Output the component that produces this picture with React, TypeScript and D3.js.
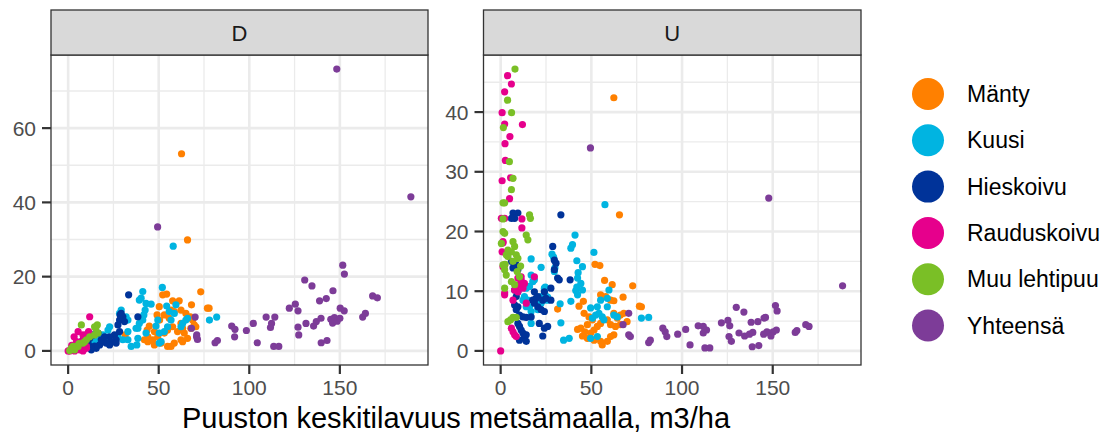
import * as d3 from 'd3';
import React from 'react';

// categories
const species = ["Mänty", "Kuusi", "Hieskoivu", "Rauduskoivu", "Muu lehtipuu", "Yhteensä"];
const colors = ["#FF8000", "#00B4E1", "#003399", "#E6008C", "#7ABF26", "#7D3C98"];
const panels = ["D", "U"];

const xTicks = [0, 50, 100, 150];
const yTicksD = [0, 20, 40, 60];
const yTicksU = [0, 10, 20, 30, 40];

// [volume m3/ha, value] -- panel D
const mantyD = [[62.6,53.1],[65.9,29.9],[73.2,15.9],[52.2,15.1],[54.4,15.3],[61.3,13.5],[57.7,13.5],[76.9,11.5],[77.8,11.5],[68.1,12.4],[56.8,11],[58.6,10.6],[50.5,8.3],[65,10.1],[62.3,11],[44.8,6.7],[43.6,5.6],[47.6,5.2],[49.5,3.8],[46.7,3],[42.1,3],[44,2.5],[47.6,1.6],[51.3,2.1],[54.9,1.2],[56.8,1.2],[58.6,2.1],[62.3,3],[63.2,2.5],[65.9,3.4],[53.1,4.8],[54.9,5.6],[57.7,6.5],[60.4,5.2],[64.1,4.8],[67.7,6.1],[69.6,7],[68.7,8.3],[67.4,9.2],[70.5,6.5],[31.5,4.3],[62.3,7.4],[63.2,6.1],[55.8,8.8],[53.1,9.7],[50.3,11.9],[49.1,9.7],[44,3.8]];
const kuusiD = [[58,28.2],[52,17.1],[41.2,16],[40.3,14.2],[39.3,13.7],[43,12.8],[45.8,12.6],[42.5,11],[41.8,9.7],[41.2,8.3],[38.5,6.1],[33,3],[34.8,1.2],[37.9,1.6],[28.4,10.1],[29.3,11],[32,9.2],[33,8.3],[54.4,12.1],[59.5,12.4],[55.8,10.6],[58.6,10.1],[56.8,8.3],[54.9,6.5],[53.1,5.2],[50.3,4.8],[48.5,6.7],[49.5,8.3],[62.3,6.5],[63.2,7.4],[65,8.3],[65.9,8.8],[78,8.3],[82,9.1],[50.3,2.1],[51.3,2.5],[22.9,6.5],[22,5.6],[19.2,4.3],[16.5,3.8],[14.6,3],[13.7,1.6],[16.5,1.6],[18.3,2.5],[21,3.4],[27.5,3.8],[30.2,3],[33,5.2],[37.5,6.1],[38.5,3.4],[43,4.8],[39.3,7.4]];
const hieskoivuD = [[33.4,15.1],[29.3,10.1],[30.2,9.2],[28.4,8.3],[31.1,7.9],[27.5,7],[28.4,5.2],[25.6,4.3],[26.5,3],[22.9,3.8],[23.8,2.5],[21,2.1],[19.2,2.5],[17.4,1.6],[15.5,0.7],[12.8,0.3],[11.9,1.2],[11,2.1],[9.1,1.6],[7.3,1.2],[8.2,3],[10.1,4.3],[11.9,3.4],[13.7,4.3],[38.5,9.2],[28.7,9.7],[22.9,1.6],[26.5,2.1],[18.3,3],[20.1,3.8],[16.5,4.8],[14.6,1.3],[9.1,0.7],[12.8,0.7]];
const rauduskoivuD = [[11.9,9.2],[5.5,5.2],[11,4.8],[7.3,2.5],[4.6,2.1],[2.7,1.2],[1.8,0.3],[0.9,0],[3.6,0],[6.4,0.3],[8.2,0],[10.1,0.7],[3.3,3.8],[4.6,2.5],[0,0],[7.3,1.6],[10.1,1.2],[11.3,5.2],[8.2,4.3],[2,1.5],[5,1]];
const muuD = [[7.3,7],[16.1,7],[15.2,6.1],[11.9,3.8],[14.6,4.3],[16.5,4.8],[2.7,1.2],[1.8,0.7],[3.6,0.3],[0.9,0.1],[5.5,1.2],[9.1,2.5],[14.6,6.5],[4.6,1.2],[8.2,2.1],[10.1,3],[2.5,0.5],[6,2]];
const yhteensaD = [[49.4,33.4],[148.3,75.9],[189.2,41.5],[151.6,23.1],[152.5,20.7],[130.6,19.1],[134.6,17.5],[146.2,16.2],[168.1,14.8],[170.7,14.3],[138.8,13.5],[142.5,14.1],[122.1,11.5],[125.4,12.6],[126.9,10.8],[150.2,11.5],[152.4,10.8],[162.6,9.1],[164.1,10.1],[109.3,9.1],[114.1,9.1],[112.3,7.4],[111.7,6.3],[102.2,7.4],[131.3,7.4],[135.5,6.7],[137,7.9],[139.6,8.8],[145,8.5],[146,7.5],[147,9],[148.5,8],[150,8.8],[90.3,6.7],[92.1,5.8],[91.9,3.8],[98.4,5.5],[104.4,2.2],[81.1,2.2],[82.4,2.8],[113.5,1.2],[116.3,1.2],[139.7,2.2],[142.9,2.8],[127.3,4.3],[126.9,6.4],[70.1,9.1],[71,4.3],[71.4,3.1],[68.1,6.1],[70.9,3.8]];

// panel U
const mantyU = [[62.4,42.4],[65.5,22.8],[72.8,10.9],[52,14.5],[54.7,14.3],[57.3,11.8],[61.5,11.1],[67.5,9],[76.5,7.5],[77.6,7.4],[45.6,8.3],[43.2,7.5],[31.4,7],[55.1,9.4],[57.9,9.1],[60.6,8.5],[62.4,8.4],[46,6.3],[48.7,5.7],[50.6,5.2],[47.8,4.4],[44.2,3.8],[42.4,3.6],[46.4,3.2],[49.6,3],[45.1,2.5],[47.8,2.1],[51.5,1.8],[55.1,1.6],[56,1],[58.8,1.6],[60.6,2.4],[62.4,2.7],[62.4,6.3],[64.3,5.5],[66,6],[67.9,6.3],[69.7,4.9],[66,4.4],[63.3,4.1],[60.6,4.4],[58.8,5.2],[55.1,4.6],[53.3,4.1],[51.5,3.5]];
const kuusiU = [[57.5,24.5],[41,19.4],[39.6,17.8],[38.7,17.2],[51.4,16.5],[28.3,16.2],[29.2,15.7],[29.6,13.3],[29.9,13.9],[42,15.1],[42.7,13.1],[42.4,12.2],[45.1,14.1],[22.3,14],[24.6,10.7],[24.1,10.1],[24.5,9.4],[25.9,9],[25.6,8.5],[42,10.7],[41.4,10.1],[42.4,9.4],[16.8,15.4],[32.8,7.9],[33.2,4.7],[34.7,1.8],[37.8,2.1],[49.6,7.2],[53.3,7.4],[55.1,8.5],[58.8,8.8],[59.7,10.2],[50.6,5.5],[52.4,6],[54.2,6.3],[56,5.7],[56.9,5.2],[58.8,7.4],[62.4,6],[64.3,5.7],[77.6,5.5],[81.6,5.6],[49.6,2.1],[53.3,2.4],[16.8,12.7],[17.7,11.6],[18.6,11.9],[15.9,10.8],[14.1,10.5],[13.1,9.1],[15,8.5],[15.9,7.4],[16.8,6.6],[14.1,7.4],[12.3,8.5],[20.5,8.5],[22.3,9.1],[24.1,10.5],[22.3,8],[20.5,6.9],[16.8,4.6],[38.7,8.3],[44.2,11.3],[45.1,10.2]];
const hieskoivuU = [[6.8,23.1],[9.5,23.1],[7.7,22.2],[5.9,22.2],[33.2,22.8],[28.7,17.5],[29.6,15.2],[30.5,14.7],[29.6,13.6],[31.4,12.2],[32.3,11.9],[27.7,10.5],[24.1,9.9],[38.3,11.9],[5.9,15],[8.6,14.4],[6.8,13.9],[9.5,13.6],[7.7,10.2],[9.5,9.9],[8.6,9.1],[18.6,9.9],[19.5,8.8],[20.5,9.1],[17.7,8.5],[18.6,8],[20.5,7.4],[23.2,8.5],[25,8.8],[27.7,8.5],[22.3,6.9],[24.1,6.6],[7.7,7.7],[9.5,7.4],[8.6,6.9],[10.4,6],[12.3,5.7],[14.1,5.6],[16.8,5.7],[9.5,4.6],[10.4,4.1],[11.3,3.5],[12.3,3],[13.1,2.4],[14.1,2.7],[10.4,1.8],[14.1,1.6],[21.3,4.6],[24.1,3.8],[25.9,4.1],[23.2,2.5]];
const rauduskoivuU = [[3.8,46.1],[5.9,44.7],[2.2,43.4],[0.8,39.9],[2.2,38],[12,37.9],[5.1,35.9],[2.4,34.7],[2.6,31.9],[5.5,29],[0.8,28.5],[4.9,25.5],[0,0],[11.7,22.1],[11.7,20.6],[1.3,18.1],[0.8,16.6],[1.3,14.1],[2.2,9.7],[0.4,22.2],[2.2,22.2],[1.3,18.3],[2.2,14.4],[9.5,12.2],[11.3,11.9],[10.4,11.1],[8.6,10.8],[9.5,9.9],[7.7,10.2],[12.3,10.5],[13.1,11.3],[11.3,12.4],[6.8,8.5],[14.1,8],[18.6,12.4],[5.9,3.8],[6.8,3.2],[7.7,2.7],[8.6,2.4],[2.2,9.4]];
const muuU = [[7.9,47.2],[3.8,42],[6,39.9],[1.5,37.4],[4.8,31.7],[6.8,28.9],[5.9,27],[1.3,24.8],[2.2,24.8],[1.3,22.1],[15.9,22.8],[16.4,22.2],[14.1,19.4],[15,18.6],[1.3,20],[2.2,19.7],[0.4,18],[6.8,18.3],[7.7,17.5],[5.9,16.6],[4,16.9],[3.1,16.1],[8.6,16.1],[9.5,15.5],[6.8,15],[1.3,14.4],[2.2,13.6],[3.1,12.7],[9.1,13.3],[10.4,12.4],[2.2,10.5],[5.9,11.6],[7.7,11.1],[4,4.9],[6.8,5.6],[8.6,5.6],[5.5,5.2],[2.4,14.5],[4,15.8],[11,14.2]];
const yhteensaU = [[49.5,34],[147.8,25.6],[188.5,10.9],[151.5,7.6],[152.4,6.7],[129.9,7.3],[134.1,6.5],[145.2,5.5],[146,5.6],[138.1,4.8],[141.8,4.9],[121.7,4.7],[125.3,5.1],[126.3,4.2],[108.9,4.2],[113.5,3.5],[111.7,3],[111.7,4.1],[102,3.6],[97.6,2.8],[89.4,3.8],[90.7,3.2],[91.6,2.4],[81.6,1.4],[82.5,1.8],[104.4,1],[112.6,0.5],[115.3,0.5],[125.9,2.4],[127.2,1.6],[131.4,3],[134.5,2.5],[137.2,2.8],[139,3.1],[138.7,0.7],[142.3,0.9],[145,2.8],[146.8,3.2],[148.5,3],[150.3,3.2],[152,3.5],[149,2.5],[162.4,3.1],[163.3,3.4],[168.2,4.4],[170,4.1],[70.6,6.3],[67.5,4.4],[70.6,2.7],[71.5,2.4]];

const seriesD = [mantyD, kuusiD, hieskoivuD, rauduskoivuD, muuD, yhteensaD];
const seriesU = [mantyU, kuusiU, hieskoivuU, rauduskoivuU, muuU, yhteensaU];

const font = "'Liberation Sans', Arial, sans-serif";
const W = 1105, H = 434;
const top = 55, bottom = 365, stripTop = 10;

// ggplot-like 5% expansion
const expand = (lo: number, hi: number) => {
  const a = (hi - lo) * 0.05;
  return [lo - a, hi + a];
};

// shared x scale (facets have free y only)
const xmax = d3.max([...seriesD, ...seriesU].flat().map(d => d[0])) as number;

function Panel({ name, left, right, series, yTicks }: any) {
  const ymax = d3.max(series.flat().map((d: number[]) => d[1])) as number;
  const x = d3.scaleLinear().domain(expand(0, xmax)).range([left, right]);
  const y = d3.scaleLinear().domain(expand(0, ymax)).range([bottom, top]);
  const step = yTicks[1] - yTicks[0];
  const yMinor = d3.range(step / 2, y.domain()[1], step);
  const xMinor = d3.range(25, x.domain()[1], 50);
  return (
    <g>
      <rect x={left} y={top} width={right - left} height={bottom - top} fill="#fff" />
      {xMinor.map(v => <line key={'xm' + v} x1={x(v)} x2={x(v)} y1={top} y2={bottom} stroke="#EBEBEB" strokeWidth={1.3} />)}
      {yMinor.map(v => <line key={'ym' + v} x1={left} x2={right} y1={y(v)} y2={y(v)} stroke="#EBEBEB" strokeWidth={1.3} />)}
      {xTicks.map(v => <line key={'xg' + v} x1={x(v)} x2={x(v)} y1={top} y2={bottom} stroke="#EBEBEB" strokeWidth={2.6} />)}
      {yTicks.map((v: number) => <line key={'yg' + v} x1={left} x2={right} y1={y(v)} y2={y(v)} stroke="#EBEBEB" strokeWidth={2.6} />)}
      {series.map((pts: number[][], i: number) => (
        <g key={i} fill={colors[i]}>
          {pts.map((p, j) => <circle key={j} cx={x(p[0])} cy={y(p[1])} r={3.6} />)}
        </g>
      ))}
      <rect x={left} y={top} width={right - left} height={bottom - top} fill="none" stroke="#333" strokeWidth={1.3} />
      <rect x={left} y={stripTop} width={right - left} height={top - stripTop} fill="#D9D9D9" stroke="#333" strokeWidth={1.3} />
      <text x={(left + right) / 2} y={41} textAnchor="middle" fontSize={22} fill="#1A1A1A" fontFamily={font}>{name}</text>
      {xTicks.map(v => (
        <g key={'xt' + v}>
          <line x1={x(v)} x2={x(v)} y1={bottom} y2={bottom + 9} stroke="#333" strokeWidth={2.2} />
          <text x={x(v)} y={395} textAnchor="middle" fontSize={21} fill="#4D4D4D" fontFamily={font}>{v}</text>
        </g>
      ))}
      {yTicks.map((v: number) => (
        <g key={'yt' + v}>
          <line x1={left - 9} x2={left} y1={y(v)} y2={y(v)} stroke="#333" strokeWidth={2.2} />
          <text x={left - 15} y={y(v) + 7.5} textAnchor="end" fontSize={21} fill="#4D4D4D" fontFamily={font}>{v}</text>
        </g>
      ))}
    </g>
  );
}

export default function App() {
  return (
    <svg width={W} height={H} style={{ position: 'fixed', left: 0, top: 0, background: '#fff' }}>
      <rect width={W} height={H} fill="#fff" />
      <Panel name={panels[0]} left={51} right={428} series={seriesD} yTicks={yTicksD} />
      <Panel name={panels[1]} left={483.5} right={861} series={seriesU} yTicks={yTicksU} />
      <text x={456} y={428} textAnchor="middle" fontSize={29} fill="#000" fontFamily={font}>
        Puuston keskitilavuus metsämaalla, m3/ha
      </text>
      {species.map((s, i) => (
        <g key={s} transform={`translate(928,${94 + i * 46.3})`}>
          <circle r={16} fill={colors[i]} />
          <text x={39} y={8} fontSize={23} fill="#000" fontFamily={font}>{s}</text>
        </g>
      ))}
    </svg>
  );
}
